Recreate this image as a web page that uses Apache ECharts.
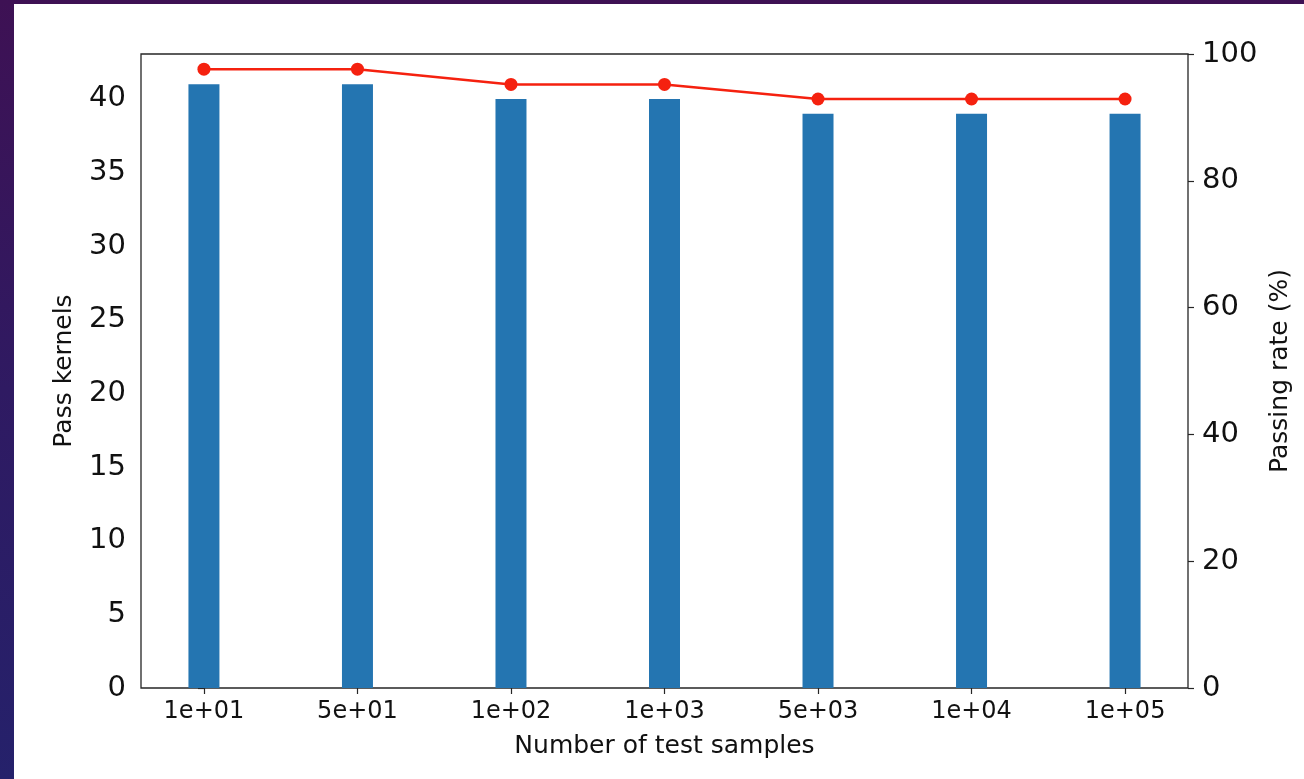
<!DOCTYPE html>
<html>
<head>
<meta charset="utf-8">
<script src="https://cdn.jsdelivr.net/npm/echarts@6/dist/echarts.min.js"></script>
<style>
  html, body { margin: 0; padding: 0; width: 1304px; height: 779px; overflow: hidden;
    background: linear-gradient(to bottom, #3e1154 0%, #2f1a62 50%, #25216b 100%); }
  #chart { position: absolute; left: 14px; top: 4px; width: 1290px; height: 775px; background: #ffffff; }
</style>
</head>
<body>
<div id="chart"></div>
<script>
const categories = ['1e+01', '5e+01', '1e+02', '1e+03', '5e+03', '1e+04', '1e+05'];
const passKernels = [41, 41, 40, 40, 39, 39, 39];
const passingRate = [97.6, 97.6, 95.2, 95.2, 92.9, 92.9, 92.9];
const leftTicks = [0, 5, 10, 15, 20, 25, 30, 35, 40];
const rightTicks = [0, 20, 40, 60, 80, 100];

const positions = categories.map((c, i) => i);
const barData = positions.map((x, i) => [x, passKernels[i]]);
const lineData = positions.map((x, i) => [x, passingRate[i]]);

const font = 'DejaVu Sans';
const chart = echarts.init(document.getElementById('chart'), null, { renderer: 'canvas' });
chart.setOption({
  animation: false,
  backgroundColor: '#ffffff',
  grid: { left: 127, right: 116, top: 50, bottom: 91, show: true, borderColor: '#262626', borderWidth: 1.3, backgroundColor: 'transparent' },
  xAxis: {
    type: 'value', min: -0.41, max: 6.41,
    name: 'Number of test samples', nameLocation: 'middle', nameGap: 46,
    nameTextStyle: { fontFamily: font, fontSize: 25, color: '#111' },
    axisLine: { show: false },
    splitLine: { show: false },
    axisTick: { show: true, length: 6, customValues: positions, lineStyle: { color: '#262626', width: 1.2 } },
    axisLabel: { customValues: positions, margin: 12, fontFamily: font, fontSize: 24, color: '#111',
      formatter: v => categories[Math.round(v)] }
  },
  yAxis: [
    {
      type: 'value', min: 0, max: 43.05, position: 'left',
      name: 'Pass kernels', nameLocation: 'middle', nameGap: 64, nameRotate: 90,
      nameTextStyle: { fontFamily: font, fontSize: 25, color: '#111' },
      axisLine: { show: false }, splitLine: { show: false },
      axisTick: { show: true, length: 6, customValues: leftTicks, lineStyle: { color: '#262626', width: 1.2 } },
      axisLabel: { customValues: leftTicks, margin: 15, fontFamily: font, fontSize: 29, color: '#111', padding: [4, 0, 0, 0] }
    },
    {
      type: 'value', min: 0, max: 100, position: 'right',
      name: 'Passing rate (%)', nameLocation: 'middle', nameGap: 75, nameRotate: 90,
      nameTextStyle: { fontFamily: font, fontSize: 25, color: '#111' },
      axisLine: { show: false }, splitLine: { show: false },
      axisTick: { show: true, length: 6, customValues: rightTicks, lineStyle: { color: '#262626', width: 1.2 } },
      axisLabel: { customValues: rightTicks, margin: 14, fontFamily: font, fontSize: 29, color: '#111', padding: [4, 0, 0, 0] }
    }
  ],
  series: [
    {
      type: 'bar', data: barData, xAxisIndex: 0, yAxisIndex: 0,
      barWidth: 31, itemStyle: { color: '#2475b1' }
    },
    {
      type: 'line', data: lineData, xAxisIndex: 0, yAxisIndex: 1,
      symbol: 'circle', symbolSize: 13,
      lineStyle: { color: '#f5210f', width: 2.6 },
      itemStyle: { color: '#f5210f' }
    }
  ]
});
</script>
</body>
</html>
